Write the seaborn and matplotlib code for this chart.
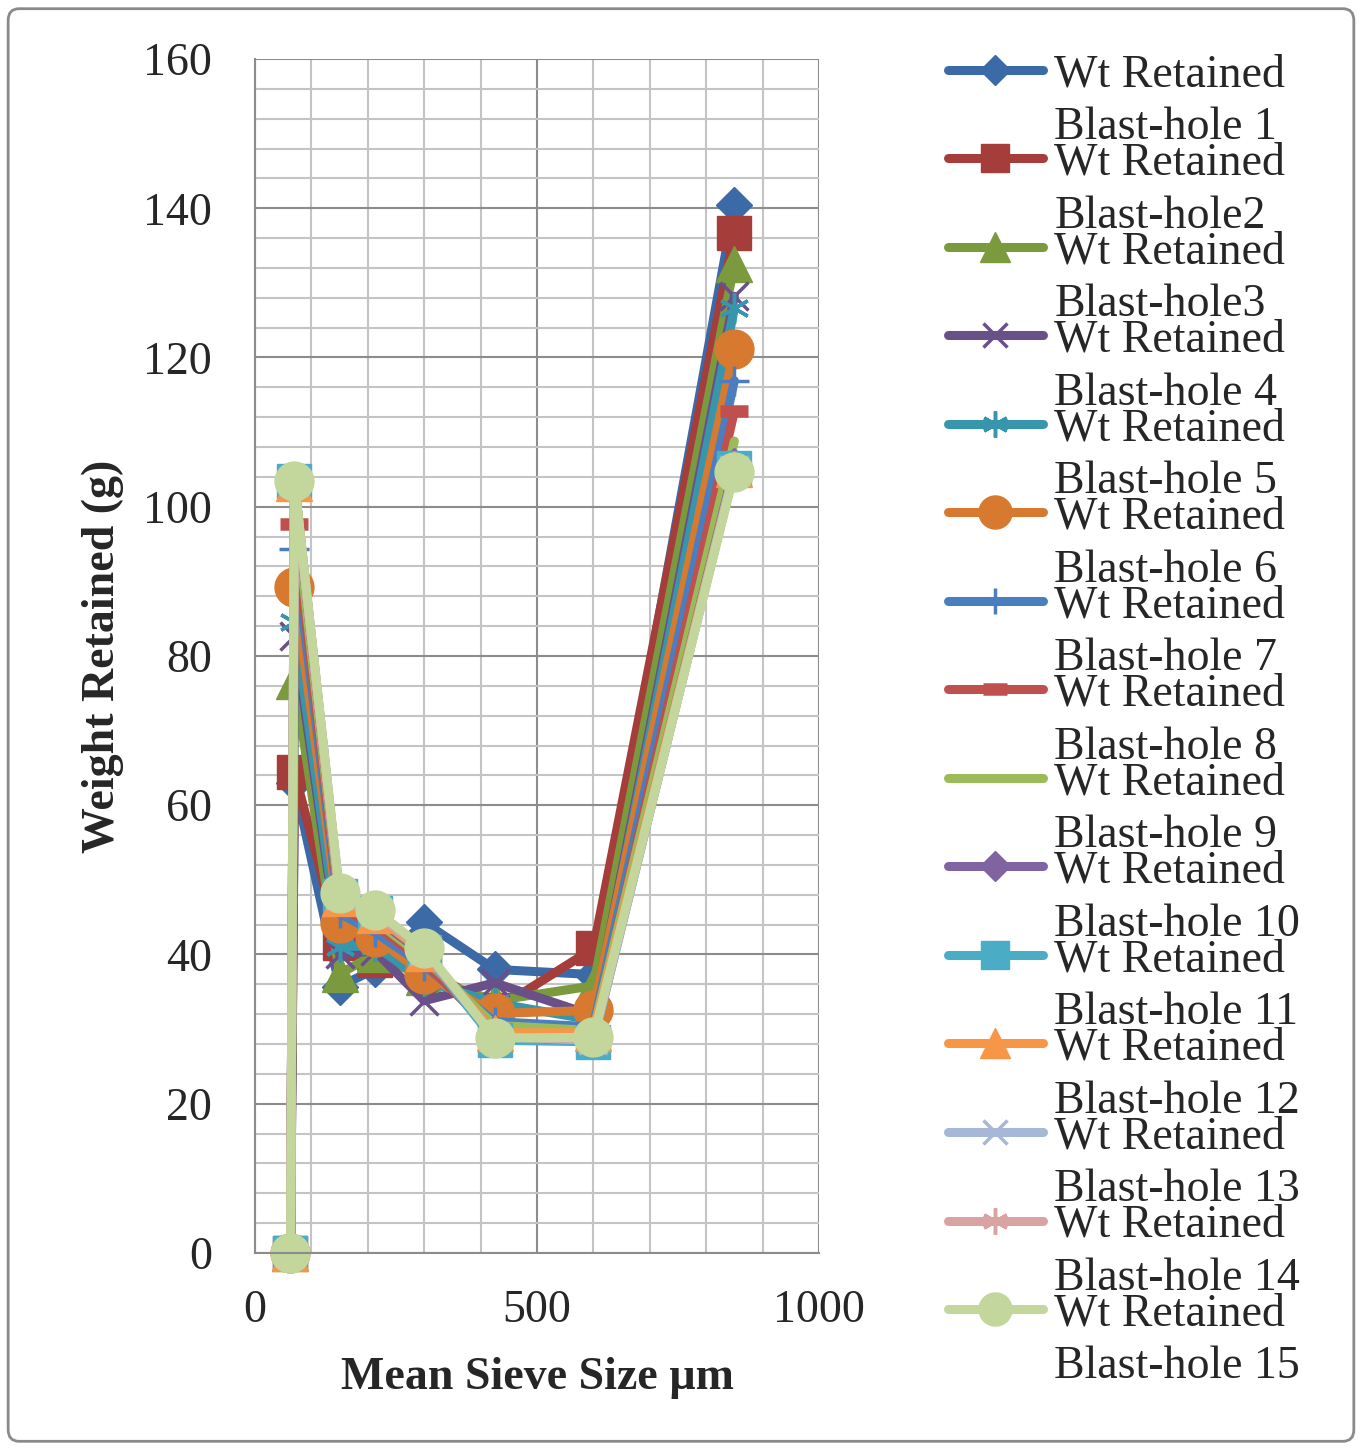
import matplotlib
matplotlib.use("Agg")
import pandas as pd
import matplotlib.pyplot as plt
import seaborn as sns
from matplotlib.ticker import MultipleLocator
from matplotlib.patches import FancyBboxPatch

# mean sieve size (um) - x axis
sieve_size = [63, 70, 150, 212, 300, 425, 600, 850]

# weight retained (g) per blast-hole
bh1 = [0, 63.0, 35.7, 38.0, 44.3, 38.0, 37.3, 140.4]
bh2 = [0, 64.4, 41.5, 39.2, 38.3, 32.5, 40.8, 136.7]
bh3 = [0, 76.7, 37.4, 40.0, 37.0, 33.8, 35.8, 132.5]
bh4 = [0, 82.7, 40.0, 40.5, 33.8, 36.2, 31.8, 128.2]
bh5 = [0, 84.5, 41.0, 41.2, 36.5, 33.5, 31.2, 126.6]
bh6 = [0, 89.2, 44.2, 42.3, 37.4, 32.1, 32.5, 121.2]
bh7 = [0, 94.4, 45.5, 43.0, 38.5, 31.0, 30.3, 116.9]
bh8 = [0, 97.7, 46.2, 44.0, 39.0, 29.5, 29.2, 112.8]
bh9 = [0, 100.5, 46.8, 44.6, 39.5, 30.5, 29.8, 108.8]
bh10 = [0, 103.0, 47.2, 45.0, 40.0, 29.5, 29.0, 105.5]
bh11 = [0, 103.4, 47.8, 45.5, 40.3, 28.5, 28.3, 105.2]
bh12 = [0, 103.2, 47.5, 45.3, 40.2, 29.5, 29.5, 105.0]
bh13 = [0, 103.3, 48.0, 45.7, 40.5, 29.0, 28.5, 104.9]
bh14 = [0, 103.4, 48.1, 45.8, 40.6, 28.9, 28.7, 104.8]
bh15 = [0, 103.5, 48.3, 46.0, 40.8, 28.8, 28.9, 104.6]

weights = [bh1, bh2, bh3, bh4, bh5, bh6, bh7, bh8, bh9, bh10,
           bh11, bh12, bh13, bh14, bh15]

hole_names = ["Blast-hole 1", "Blast-hole2", "Blast-hole3", "Blast-hole 4",
              "Blast-hole 5", "Blast-hole 6", "Blast-hole 7", "Blast-hole 8",
              "Blast-hole 9", "Blast-hole 10", "Blast-hole 11", "Blast-hole 12",
              "Blast-hole 13", "Blast-hole 14", "Blast-hole 15"]

# styling (excel-like)
colors = ["#3B6AA6", "#A53E3B", "#7B9A3D", "#6A5089", "#3896AC", "#D77A30",
          "#4A7EBF", "#C0504D", "#9BBB59", "#8064A2", "#4BACC6", "#F79646",
          "#A5B8D7", "#D9A3A2", "#C3D69B"]
markers = ["D", "s", "^", "x", (6, 2, 0), "o", "+", "_", "",
           "D", "s", "^", "x", (6, 2, 0), "o"]
msize = {"D": 18, "s": 24, "^": 26, "x": 20, "o": 28, "+": 22, "_": 20, "": 0}
mwidth = {"D": 1, "s": 1, "^": 1, "x": 2.5, "o": 1, "+": 2.5, "_": 9, "": 0}

FS = 33

sns.set_style("white")
plt.rcParams["font.family"] = ["Liberation Serif", "DejaVu Serif"]

fig = plt.figure(figsize=(13.62, 14.5), dpi=100)
ax = fig.add_axes([0.1872, 0.1359, 0.4141, 0.8234])

for i, vals in enumerate(weights):
    df = pd.DataFrame({"size": sieve_size, "wt": vals})
    m = markers[i]
    key = "*" if isinstance(m, tuple) else m
    ms = msize.get(key, 22)
    mew = mwidth.get(key, 2.5)
    sns.lineplot(data=df, x="size", y="wt", ax=ax, sort=False, estimator=None,
                 color=colors[i], linewidth=6.5, marker=m if m else None,
                 markersize=ms, markeredgecolor=colors[i],
                 markerfacecolor=colors[i], markeredgewidth=mew,
                 label="Wt Retained\n" + hole_names[i], legend=False,
                 clip_on=False)

if ax.get_legend() is not None:
    ax.get_legend().remove()

ax.set_xlim(0, 1000)
ax.set_ylim(0, 160)
ax.xaxis.set_major_locator(MultipleLocator(500))
ax.xaxis.set_minor_locator(MultipleLocator(100))
ax.yaxis.set_major_locator(MultipleLocator(20))
ax.yaxis.set_minor_locator(MultipleLocator(4))

ax.set_axisbelow(True)
ax.grid(which="major", color="#8c8c8c", linewidth=1.5)
ax.grid(which="minor", color="#c4c4c4", linewidth=1.5)
for s in ["top", "right"]:
    ax.spines[s].set_visible(False)
for s in ["left", "bottom"]:
    ax.spines[s].set_color("#8c8c8c")
    ax.spines[s].set_linewidth(1.5)

ax.tick_params(which="major", length=10, width=1.5, color="#8c8c8c",
               direction="out", labelsize=FS)
ax.tick_params(which="minor", length=0)
ax.tick_params(axis="y", pad=21)
ax.tick_params(axis="x", pad=16)

ax.set_xlabel("Mean Sieve Size µm", fontsize=FS, fontweight="bold", labelpad=18)
ax.set_ylabel("Weight Retained (g)", fontsize=FS, fontweight="bold", labelpad=14)

handles, labels = ax.get_legend_handles_labels()
leg = fig.legend(handles, labels, loc="upper left",
                 bbox_to_anchor=(948 / 1362, 0.963), frameon=False,
                 fontsize=FS, handlelength=2.07, handletextpad=0.25,
                 borderpad=0, borderaxespad=0, labelspacing=-0.15,
                 markerscale=0.85)
for t in leg.get_texts():
    t.set_linespacing(1.32)
# put the handle next to the first text line, like excel does
for col in leg._legend_handle_box.get_children():
    for row in col.get_children():
        row.align = "top"

# outer chart border
fig.patches.append(FancyBboxPatch((0.006, 0.006), 0.988, 0.988,
                                  boxstyle="round,pad=0,rounding_size=0.008",
                                  transform=fig.transFigure, fill=False,
                                  edgecolor="#8a8a8a", linewidth=2))

fig.savefig("out.png", dpi=100)
